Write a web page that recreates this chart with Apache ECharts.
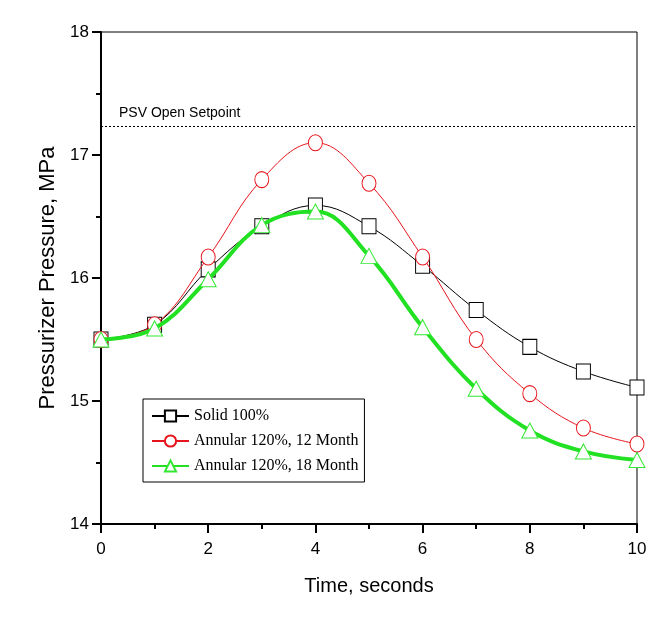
<!DOCTYPE html>
<html>
<head>
<meta charset="utf-8">
<script src="https://cdn.jsdelivr.net/npm/echarts@6/dist/echarts.min.js"></script>
<style>
html,body{margin:0;padding:0;background:#fff;}
#chart{width:667px;height:617px;}
</style>
</head>
<body>
<div id="chart"></div>
<script>
const timeSec = [0, 1, 2, 3, 4, 5, 6, 7, 8, 9, 10];
const solid100 = [15.50, 15.62, 16.07, 16.42, 16.59, 16.42, 16.10, 15.74, 15.44, 15.24, 15.11];
const annular12 = [15.50, 15.62, 16.17, 16.80, 17.10, 16.77, 16.17, 15.50, 15.06, 14.78, 14.65];
const annular18 = [15.50, 15.59, 15.99, 16.43, 16.54, 16.18, 15.60, 15.10, 14.76, 14.59, 14.52];
const seriesNames = ['Solid 100%', 'Annular 120%, 12 Month', 'Annular 120%, 18 Month'];
const psvSetpoint = 17.23;
const psvLabel = 'PSV Open Setpoint';
const xTitle = 'Time, seconds';
const yTitle = 'Pressurizer Pressure, MPa';

function pairs(ys) { return timeSec.map((t, i) => [t, ys[i]]); }

const chart = echarts.init(document.getElementById('chart'), null, {renderer: 'canvas'});
const sans = 'Liberation Sans, Arial, sans-serif';
const serif = 'Liberation Serif, Times New Roman, serif';

const option = {
  backgroundColor: '#fff',
  animation: false,
  grid: {left: 101, right: 30, top: 32, bottom: 93, show: true, borderColor: '#000', borderWidth: 1},
  legend: {
    orient: 'vertical', left: 143, top: 399,
    backgroundColor: '#fff', borderColor: '#000', borderWidth: 1,
    padding: [9, 6, 8, 8], itemWidth: 37, itemHeight: 14, itemGap: 9,
    textStyle: {fontFamily: serif, fontSize: 16, color: '#000', lineHeight: 15},
    data: seriesNames
  },
  xAxis: {
    type: 'value', min: 0, max: 10, interval: 2,
    name: xTitle, nameLocation: 'middle', nameGap: 52,
    nameTextStyle: {fontFamily: sans, fontSize: 20, color: '#000'},
    axisLine: {show: true, lineStyle: {color: '#000', width: 2}},
    axisTick: {show: true, length: 9, lineStyle: {color: '#000', width: 2}},
    minorTick: {show: true, splitNumber: 2, length: 5, lineStyle: {color: '#000', width: 2}},
    splitLine: {show: false},
    axisLabel: {fontFamily: sans, fontSize: 17, color: '#000', margin: 17}
  },
  yAxis: {
    type: 'value', min: 14, max: 18, interval: 1,
    name: yTitle, nameLocation: 'middle', nameGap: 42,
    nameTextStyle: {fontFamily: sans, fontSize: 22, color: '#000'},
    axisLine: {show: true, lineStyle: {color: '#000', width: 2}},
    axisTick: {show: true, length: 9, lineStyle: {color: '#000', width: 2}},
    minorTick: {show: true, splitNumber: 2, length: 5, lineStyle: {color: '#000', width: 2}},
    splitLine: {show: false},
    axisLabel: {fontFamily: sans, fontSize: 17, color: '#000', margin: 12}
  },
  series: [
    {
      name: seriesNames[0], type: 'line', data: pairs(solid100), smooth: 0.4,
      symbol: 'rect', symbolSize: [14, 15],
      lineStyle: {color: '#000', width: 1},
      itemStyle: {color: '#fff', borderColor: '#000', borderWidth: 1},
      z: 3,
      markLine: {
        silent: true, symbol: 'none', animation: false,
        lineStyle: {color: '#000', width: 1, type: [2, 2]},
        label: {show: true, formatter: psvLabel, position: 'insideStartTop', distance: [18, 7],
                fontFamily: sans, fontSize: 14, color: '#000'},
        data: [{yAxis: psvSetpoint}]
      }
    },
    {
      name: seriesNames[1], type: 'line', data: pairs(annular12), smooth: 0.4,
      symbol: 'circle', symbolSize: [14, 16],
      lineStyle: {color: '#e8141c', width: 1},
      itemStyle: {color: '#fff', borderColor: '#e8141c', borderWidth: 1},
      z: 4
    },
    {
      name: seriesNames[2], type: 'line', data: pairs(annular18), smooth: 0.4,
      symbol: 'triangle', symbolSize: [16, 15],
      lineStyle: {color: '#22e022', width: 4},
      itemStyle: {color: '#fff', borderColor: '#33e833', borderWidth: 1},
      z: 5
    }
  ]
};
chart.setOption(option);
</script>
</body>
</html>
